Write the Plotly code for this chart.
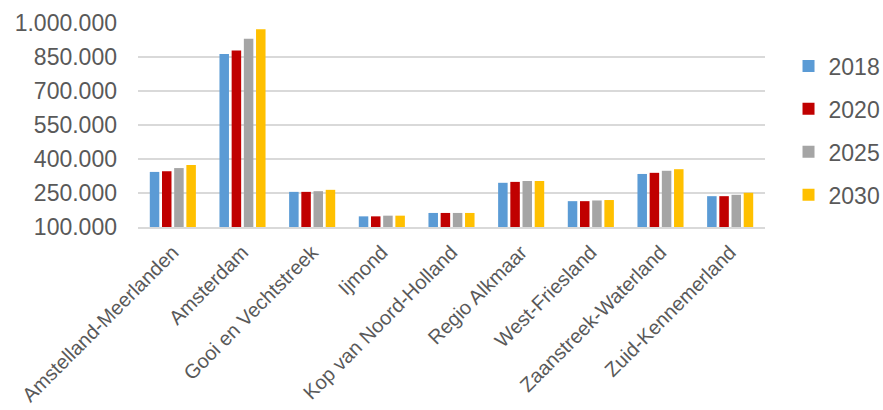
import plotly.graph_objects as go

regions = [
    "Amstelland-Meerlanden", "Amsterdam", "Gooi en Vechtstreek", "Ijmond",
    "Kop van Noord-Holland", "Regio Alkmaar", "West-Friesland",
    "Zaanstreek-Waterland", "Zuid-Kennemerland",
]
years = ["2018", "2020", "2025", "2030"]

pop_2018 = [343000, 863000, 255000, 147000, 162000, 295000, 214000, 334000, 236000]
pop_2020 = [346000, 879000, 255000, 147000, 162000, 299000, 214000, 339000, 236000]
pop_2025 = [360000, 930000, 258000, 150000, 162000, 303000, 217000, 348000, 242000]
pop_2030 = [374000, 972000, 264000, 150000, 162000, 303000, 219000, 355000, 251000]

series = [pop_2018, pop_2020, pop_2025, pop_2030]
colors = ["#5B9BD5", "#C00000", "#A5A5A5", "#FFC000"]

y_ticks = [100000, 250000, 400000, 550000, 700000, 850000, 1000000]

fig = go.Figure()
for year, vals, col in zip(years, series, colors):
    fig.add_trace(go.Bar(
        x=regions, y=vals, name=year, legendgroup=year,
        marker=dict(color=col, line=dict(width=0)),
    ))

fig.update_layout(
    width=883, height=410,
    margin=dict(l=138, r=118, t=23, b=183, autoexpand=False),
    paper_bgcolor="white", plot_bgcolor="white",
    barmode="group", bargap=0.3, bargroupgap=0.22,
    separators=",.",
    font=dict(family="Liberation Sans, Arial, sans-serif", color="#595959"),
    showlegend=True,
    legend=dict(
        x=0.893, xanchor="left", xref="container", y=0.473, yanchor="middle",
        font=dict(size=23, color="#595959"),
        tracegroupgap=10, itemwidth=30,
    ),
    yaxis=dict(
        range=[100000, 1000000], tickvals=y_ticks, tickformat=",d",
        showgrid=True, gridcolor="#D9D9D9", gridwidth=1.5,
        zeroline=False, showline=False, ticks="", automargin=False,
        tickfont=dict(size=23, color="#595959"), ticklabelstandoff=20,
    ),
    xaxis=dict(
        tickangle=-45, tickfont=dict(size=20, color="#595959"),
        showline=True, linecolor="#D9D9D9", linewidth=1.5, ticks="",
        ticklabelstandoff=4, automargin=False,
    ),
)

fig.write_html("out.html")
